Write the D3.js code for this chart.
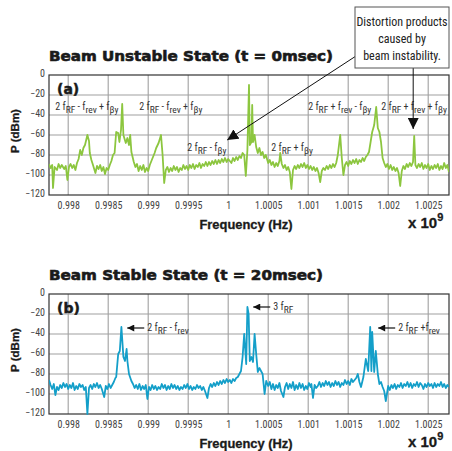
<!DOCTYPE html>
<html>
<head>
<meta charset="utf-8">
<script src="https://cdn.jsdelivr.net/npm/d3@7"></script>
<style>
  body { margin: 0; background: #fff; }
</style>
</head>
<body>
<svg id="chart"></svg>
<script>
// DATA SECTION

// x axis in units of 1e9 Hz, spectra stored as [MHz, dBm]
let xDomain = [0.99776, 1.00276];
let yDomain = [-120, 0];
let xTicks = [0.998, 0.9985, 0.999, 0.9995, 1, 1.0005, 1.001, 1.0015, 1.002, 1.0025];
let xTickLabels = ['0.998', '0.9985', '0.999', '0.9995', '1', '1.0005', '1.001', '1.0015', '1.002', '1.0025'];
let yTicks = [0, -20, -40, -60, -80, -100, -120];

let titles = ['Beam Unstable State (t = 0msec)', 'Beam Stable State (t = 20msec)'];
let panelTags = ['(a)', '(b)'];
let calloutLines = ['Distortion products', 'caused by', 'beam instability.'];

let unstableLabels = [
  '2 f_{RF} - f_{rev} + f_{βy}',
  '2 f_{RF} - f_{rev} + f_{βy}',
  '2 f_{RF} + f_{rev} - f_{βy}',
  '2 f_{RF} + f_{rev} + f_{βy}',
  '2 f_{RF} - f_{βy}',
  '2 f_{RF} + f_{βy}'
];
let stableLabels = ['2 f_{RF} - f_{rev}', '3 f_{RF}', '2 f_{RF} +f_{rev}'];

let unstableSpectrum = [
  [997.76,-89],[997.78,-93],[997.80,-90],[997.81,-113],[997.83,-92],[997.86,-95],[997.88,-89],
  [997.90,-93],[997.92,-90],[997.95,-94],[997.97,-91],[997.99,-105],[998.01,-92],[998.03,-89],
  [998.05,-93],[998.07,-90],[998.09,-95],[998.11,-88],[998.13,-84],[998.15,-75],[998.17,-80],
  [998.19,-73],[998.21,-70],[998.24,-60],[998.26,-66],[998.27,-78],[998.29,-85],[998.31,-90],
  [998.34,-98],[998.36,-91],[998.38,-94],[998.40,-90],[998.42,-96],[998.44,-92],[998.46,-99],
  [998.48,-93],[998.50,-95],[998.52,-90],[998.54,-86],[998.56,-80],[998.58,-78],[998.60,-57],
  [998.625,-58],[998.64,-67],[998.66,-55],[998.675,-29],[998.69,-60],[998.72,-68],[998.74,-63],
  [998.76,-70],[998.775,-60],[998.79,-77],[998.82,-87],[998.84,-92],[998.86,-89],[998.88,-96],
  [998.90,-91],[998.92,-95],[998.94,-90],[998.96,-97],[998.98,-93],[999.00,-96],[999.02,-90],
  [999.04,-86],[999.06,-82],[999.08,-78],[999.10,-73],[999.13,-68],[999.16,-60],[999.18,-80],
  [999.20,-108],[999.22,-95],[999.24,-92],[999.26,-97],[999.28,-93],[999.30,-96],[999.32,-91],
  [999.34,-95],[999.36,-92],[999.38,-97],[999.40,-93],[999.42,-95],[999.44,-90],[999.46,-94],
  [999.48,-91],[999.50,-95],[999.52,-90],[999.54,-93],[999.56,-89],[999.58,-94],[999.60,-90],
  [999.62,-92],[999.64,-88],[999.66,-93],[999.68,-89],[999.70,-91],[999.72,-87],[999.74,-91],
  [999.76,-87],[999.78,-90],[999.80,-86],[999.82,-89],[999.84,-85],[999.86,-89],[999.88,-85],
  [999.90,-88],[999.92,-84],[999.94,-87],[999.96,-83],[999.98,-87],[1000.00,-84],[1000.02,-86],
  [1000.04,-88],[1000.06,-83],[1000.08,-86],[1000.10,-82],[1000.12,-85],[1000.14,-81],[1000.16,-83],
  [1000.18,-78],[1000.20,-80],[1000.22,-101],[1000.24,-75],[1000.26,-10],[1000.27,-70],[1000.29,-67],
  [1000.30,-30],[1000.31,-67],[1000.33,-60],[1000.35,-72],[1000.37,-78],[1000.39,-73],[1000.41,-80],
  [1000.43,-77],[1000.45,-83],[1000.47,-80],[1000.50,-88],[1000.52,-85],[1000.54,-90],[1000.56,-87],
  [1000.58,-92],[1000.60,-88],[1000.62,-91],[1000.64,-86],[1000.65,-78],[1000.67,-89],[1000.69,-93],
  [1000.71,-90],[1000.73,-95],[1000.75,-92],[1000.77,-97],[1000.79,-114],[1000.81,-95],[1000.83,-91],
  [1000.85,-94],[1000.87,-90],[1000.89,-93],[1000.91,-89],[1000.93,-92],[1000.95,-88],[1000.97,-93],
  [1000.99,-90],[1001.01,-94],[1001.03,-91],[1001.05,-95],[1001.07,-92],[1001.09,-96],[1001.11,-93],
  [1001.13,-98],[1001.15,-107],[1001.17,-96],[1001.19,-93],[1001.21,-95],[1001.23,-91],[1001.25,-94],
  [1001.27,-90],[1001.29,-93],[1001.31,-89],[1001.33,-92],[1001.35,-88],[1001.37,-80],[1001.40,-60],
  [1001.42,-83],[1001.44,-100],[1001.46,-90],[1001.48,-87],[1001.50,-91],[1001.52,-86],[1001.54,-89],
  [1001.56,-85],[1001.58,-88],[1001.60,-84],[1001.62,-89],[1001.64,-85],[1001.66,-87],[1001.68,-83],
  [1001.70,-86],[1001.72,-82],[1001.74,-80],[1001.76,-77],[1001.78,-67],[1001.80,-57],[1001.825,-50],
  [1001.85,-32],[1001.87,-53],[1001.89,-57],[1001.91,-67],[1001.93,-83],[1001.95,-88],[1001.97,-92],
  [1001.99,-89],[1002.01,-94],[1002.03,-90],[1002.05,-95],[1002.07,-92],[1002.09,-96],[1002.11,-93],
  [1002.13,-98],[1002.15,-111],[1002.17,-96],[1002.19,-91],[1002.21,-94],[1002.23,-89],[1002.25,-92],
  [1002.27,-88],[1002.29,-91],[1002.31,-87],[1002.325,-61],[1002.34,-90],[1002.36,-93],[1002.38,-89],
  [1002.40,-92],[1002.42,-88],[1002.44,-94],[1002.46,-90],[1002.48,-93],[1002.50,-89],[1002.52,-95],
  [1002.54,-91],[1002.56,-94],[1002.58,-90],[1002.60,-93],[1002.62,-89],[1002.64,-95],[1002.66,-91],
  [1002.68,-94],[1002.70,-88],[1002.72,-93],[1002.74,-90],[1002.76,-97]
];

let stableSpectrum = [
  [997.76,-86],[997.78,-91],[997.80,-95],[997.82,-90],[997.84,-101],[997.86,-93],[997.88,-96],
  [997.90,-91],[997.92,-94],[997.94,-89],[997.96,-93],[997.98,-90],[998.00,-95],[998.02,-91],
  [998.04,-94],[998.06,-89],[998.08,-96],[998.10,-92],[998.12,-95],[998.14,-90],[998.16,-93],
  [998.18,-91],[998.20,-96],[998.22,-93],[998.24,-120],[998.26,-94],[998.28,-91],[998.30,-95],
  [998.32,-90],[998.34,-93],[998.36,-89],[998.38,-94],[998.40,-91],[998.42,-95],[998.45,-103],
  [998.47,-92],[998.49,-95],[998.51,-90],[998.53,-94],[998.55,-91],[998.57,-88],[998.59,-84],
  [998.60,-83],[998.625,-60],[998.645,-57],[998.665,-33],[998.69,-63],[998.71,-67],[998.73,-55],
  [998.74,-67],[998.76,-80],[998.79,-87],[998.81,-90],[998.83,-94],[998.85,-91],[998.87,-95],
  [998.89,-90],[998.91,-96],[998.93,-92],[998.95,-95],[998.97,-91],[998.99,-105],[999.01,-93],
  [999.03,-96],[999.05,-91],[999.07,-95],[999.09,-92],[999.11,-96],[999.13,-93],[999.15,-95],
  [999.17,-90],[999.19,-94],[999.21,-91],[999.23,-96],[999.25,-92],[999.27,-95],[999.29,-90],
  [999.31,-94],[999.33,-91],[999.35,-95],[999.37,-92],[999.39,-96],[999.41,-93],[999.43,-95],
  [999.45,-91],[999.47,-94],[999.49,-90],[999.51,-95],[999.53,-92],[999.55,-96],[999.57,-93],
  [999.59,-95],[999.61,-91],[999.63,-94],[999.65,-92],[999.67,-96],[999.69,-93],[999.71,-97],
  [999.74,-104],[999.76,-94],[999.78,-90],[999.80,-93],[999.82,-89],[999.84,-92],[999.86,-88],
  [999.88,-91],[999.90,-87],[999.92,-90],[999.94,-86],[999.96,-89],[999.98,-85],[1000.00,-88],
  [1000.02,-86],[1000.04,-89],[1000.06,-85],[1000.08,-87],[1000.10,-84],[1000.12,-83],[1000.14,-80],
  [1000.16,-77],[1000.18,-63],[1000.20,-40],[1000.225,-70],[1000.24,-13],[1000.255,-20],[1000.27,-67],
  [1000.29,-63],[1000.31,-68],[1000.33,-40],[1000.35,-60],[1000.37,-78],[1000.39,-74],[1000.41,-77],
  [1000.43,-80],[1000.455,-100],[1000.475,-87],[1000.50,-92],[1000.52,-88],[1000.54,-95],[1000.56,-90],
  [1000.58,-96],[1000.60,-91],[1000.62,-94],[1000.64,-89],[1000.66,-97],[1000.69,-103],[1000.71,-93],
  [1000.73,-89],[1000.75,-95],[1000.77,-90],[1000.79,-94],[1000.81,-88],[1000.83,-96],[1000.85,-91],
  [1000.87,-95],[1000.89,-89],[1000.91,-94],[1000.93,-90],[1000.95,-96],[1000.97,-92],[1000.99,-95],
  [1001.01,-89],[1001.03,-93],[1001.04,-90],[1001.06,-104],[1001.08,-91],[1001.10,-94],[1001.12,-92],
  [1001.14,-88],[1001.16,-93],[1001.18,-89],[1001.20,-92],[1001.22,-87],[1001.24,-91],[1001.26,-88],
  [1001.28,-93],[1001.30,-89],[1001.32,-92],[1001.34,-87],[1001.36,-91],[1001.38,-88],[1001.40,-93],
  [1001.42,-89],[1001.44,-91],[1001.46,-86],[1001.48,-90],[1001.50,-87],[1001.52,-91],[1001.54,-85],
  [1001.56,-88],[1001.58,-86],[1001.60,-84],[1001.62,-80],[1001.64,-88],[1001.66,-93],[1001.69,-83],
  [1001.72,-65],[1001.75,-77],[1001.775,-33],[1001.79,-77],[1001.80,-38],[1001.825,-78],[1001.845,-57],
  [1001.87,-80],[1001.89,-90],[1001.91,-88],[1001.93,-93],[1001.95,-97],[1001.97,-107],[1002.00,-92],
  [1002.02,-96],[1002.04,-91],[1002.06,-94],[1002.08,-90],[1002.10,-95],[1002.12,-91],[1002.14,-93],
  [1002.16,-89],[1002.18,-94],[1002.20,-90],[1002.22,-92],[1002.24,-88],[1002.26,-93],[1002.28,-89],
  [1002.30,-94],[1002.32,-90],[1002.34,-92],[1002.36,-88],[1002.38,-93],[1002.40,-89],[1002.42,-91],
  [1002.44,-95],[1002.46,-90],[1002.48,-93],[1002.50,-89],[1002.52,-92],[1002.54,-90],[1002.56,-94],
  [1002.58,-89],[1002.60,-93],[1002.62,-90],[1002.64,-92],[1002.66,-88],[1002.68,-93],[1002.70,-90],
  [1002.72,-94],[1002.74,-91],[1002.76,-93]
];

// RENDER SECTION

let narrow = "'Liberation Sans Narrow', 'Arial Narrow', 'Roboto Condensed', 'Liberation Sans', sans-serif";
let heavy = "'Arial Black', 'DejaVu Sans', 'Liberation Sans', sans-serif";

let svg = d3.select('#chart')
  .attr('width', 452)
  .attr('height', 451)
  .attr('viewBox', '0 0 452 451');

let defs = svg.append('defs');
defs.append('marker')
  .attr('id', 'head')
  .attr('viewBox', '0 0 10 10')
  .attr('refX', 10).attr('refY', 5)
  .attr('markerUnits', 'userSpaceOnUse')
  .attr('markerWidth', 8).attr('markerHeight', 7)
  .attr('orient', 'auto')
  .append('path')
  .attr('d', 'M0,0 L10,5 L0,10 Z')
  .attr('fill', '#111');
defs.append('marker')
  .attr('id', 'bighead')
  .attr('viewBox', '0 0 10 10')
  .attr('refX', 10).attr('refY', 5)
  .attr('markerUnits', 'userSpaceOnUse')
  .attr('markerWidth', 11).attr('markerHeight', 11)
  .attr('orient', 'auto')
  .append('path')
  .attr('d', 'M0,0 L10,5 L0,10 Z')
  .attr('fill', '#111');

// "2 f_{RF}" -> text with subscript tspans
function richText(sel, str, size) {
  let parts = str.split(/_\{([^}]*)\}/);
  let t = sel.append('text')
    .attr('font-family', narrow)
    .attr('font-size', size)
    .attr('fill', '#333');
  parts.forEach(function(p, i) {
    if (p === '') return;
    if (i % 2 === 1) {
      t.append('tspan').attr('dy', 2.5).attr('font-size', size * 0.95).text(p);
    } else {
      t.append('tspan').attr('dy', i === 0 ? 0 : -2.5).text(p);
    }
  });
  return t;
}

function drawPanel(cfg) {
  let left = 49, right = 449;
  let x = d3.scaleLinear().domain(xDomain).range([left, right]);
  let y = d3.scaleLinear().domain(yDomain).range([cfg.bottom, cfg.top]);

  let g = svg.append('g').attr('class', 'panel');

  // title
  g.append('text')
    .attr('x', left)
    .attr('y', cfg.top - 14)
    .attr('font-family', heavy)
    .attr('font-weight', 'bold')
    .attr('font-size', 13.5)
    .attr('fill', '#1a1a1a')
    .attr('stroke', '#1a1a1a')
    .attr('stroke-width', 0.6)
    .attr('textLength', cfg.titleWidth)
    .attr('lengthAdjust', 'spacingAndGlyphs')
    .text(cfg.title);

  // grid
  g.append('g')
    .selectAll('line')
    .data(xTicks)
    .enter().append('line')
    .attr('x1', d => x(d)).attr('x2', d => x(d))
    .attr('y1', cfg.top).attr('y2', cfg.bottom)
    .attr('stroke', '#a0a0a0')
    .attr('stroke-width', 1.1);
  g.append('g')
    .selectAll('line')
    .data(yTicks.slice(1, -1))
    .enter().append('line')
    .attr('x1', left).attr('x2', right)
    .attr('y1', d => y(d)).attr('y2', d => y(d))
    .attr('stroke', '#a0a0a0')
    .attr('stroke-width', 1.1);

  // frame
  g.append('rect')
    .attr('x', left).attr('y', cfg.top)
    .attr('width', right - left).attr('height', cfg.bottom - cfg.top)
    .attr('fill', 'none')
    .attr('stroke', '#333')
    .attr('stroke-width', 1.2);

  // axes labels
  g.append('g')
    .attr('transform', `translate(0,${cfg.bottom + 14})`)
    .call(d3.axisBottom(x).tickValues(xTicks).tickFormat((d, i) => xTickLabels[i]).tickSize(0))
    .call(a => a.select('.domain').remove())
    .call(a => a.selectAll('.tick text')
      .attr('y', 0).attr('dy', 0)
      .attr('font-family', narrow)
      .attr('font-size', 10)
      .attr('fill', '#444'));
  g.append('g')
    .attr('transform', `translate(${left - 4},0)`)
    .call(d3.axisLeft(y).tickValues(yTicks).tickSize(0))
    .call(a => a.select('.domain').remove())
    .call(a => a.selectAll('.tick text')
      .attr('x', 0).attr('dy', '0.15em')
      .attr('font-family', narrow)
      .attr('font-size', 10)
      .attr('fill', '#444'));

  g.append('text')
    .attr('transform', `translate(19,${(cfg.top + cfg.bottom) / 2 - 4}) rotate(-90)`)
    .attr('text-anchor', 'middle')
    .attr('font-family', 'Liberation Sans, sans-serif')
    .attr('font-weight', 'bold')
    .attr('font-size', 11.5)
    .attr('fill', '#1a1a1a')
    .attr('stroke', '#1a1a1a')
    .attr('stroke-width', 0.3)
    .text('P (dBm)');
  g.append('text')
    .attr('x', 246).attr('y', cfg.bottom + 34)
    .attr('text-anchor', 'middle')
    .attr('font-family', 'Liberation Sans, sans-serif')
    .attr('font-weight', 'bold')
    .attr('font-size', 12)
    .attr('fill', '#1a1a1a')
    .attr('stroke', '#1a1a1a')
    .attr('stroke-width', 0.3)
    .attr('textLength', 93)
    .attr('lengthAdjust', 'spacingAndGlyphs')
    .text('Frequency (Hz)');
  let exp = g.append('text')
    .attr('x', 408).attr('y', cfg.bottom + 33)
    .attr('font-family', 'Liberation Sans, sans-serif')
    .attr('font-weight', 'bold')
    .attr('font-size', 15)
    .attr('fill', '#1a1a1a')
    .attr('stroke', '#1a1a1a')
    .attr('stroke-width', 0.3);
  exp.append('tspan').text('x 10');
  exp.append('tspan').attr('dy', -7).attr('font-size', 11).text('9');

  // panel tag
  g.append('text')
    .attr('x', 57).attr('y', cfg.top + 19)
    .attr('font-family', heavy)
    .attr('font-weight', 'bold')
    .attr('font-size', 14)
    .attr('fill', '#1a1a1a')
    .attr('stroke', '#1a1a1a')
    .attr('stroke-width', 0.5)
    .text(cfg.tag);

  // trace
  let clip = 'clip' + cfg.tag.replace(/\W/g, '');
  defs.append('clipPath').attr('id', clip)
    .append('rect')
    .attr('x', left).attr('y', cfg.top)
    .attr('width', right - left).attr('height', cfg.bottom - cfg.top + 1);
  let line = d3.line()
    .x(d => x(d[0] / 1000))
    .y(d => y(d[1]));
  g.append('path')
    .datum(cfg.data)
    .attr('clip-path', `url(#${clip})`)
    .attr('fill', 'none')
    .attr('stroke', cfg.color)
    .attr('stroke-width', 1.8)
    .attr('stroke-linejoin', 'round')
    .attr('d', line);

  return {x: x, y: y, g: g};
}

// panel (a)
let pa = drawPanel({top: 75, bottom: 195, title: titles[0], titleWidth: 284, tag: panelTags[0],
  data: unstableSpectrum, color: '#8cc63f'});

// label anchors [GHz, dBm]
let aAnchors = [[0.997838, -35], [0.998888, -35], [1.001, -35], [1.001913, -35], [0.999488, -76], [1.000538, -76]];
unstableLabels.forEach(function(s, i) {
  richText(pa.g, s, 10)
    .attr('x', pa.x(aAnchors[i][0]))
    .attr('y', pa.y(aAnchors[i][1]));
});

// callout box + leaders
let box = {x: 355, y: 7, w: 94, h: 61};
pa.g.append('line')
  .attr('x1', box.x + 1).attr('y1', 56)
  .attr('x2', pa.x(0.9999875)).attr('y2', pa.y(-65))
  .attr('stroke', '#111').attr('stroke-width', 1)
  .attr('marker-end', 'url(#bighead)');
pa.g.append('line')
  .attr('x1', pa.x(1.0023125)).attr('y1', box.y + box.h)
  .attr('x2', pa.x(1.0023125)).attr('y2', pa.y(-54))
  .attr('stroke', '#111').attr('stroke-width', 1)
  .attr('marker-end', 'url(#bighead)');
pa.g.append('rect')
  .attr('x', box.x).attr('y', box.y)
  .attr('width', box.w).attr('height', box.h)
  .attr('fill', '#fff')
  .attr('stroke', '#555')
  .attr('stroke-width', 1);
pa.g.append('g')
  .selectAll('text')
  .data(calloutLines)
  .enter().append('text')
  .attr('x', box.x + box.w / 2)
  .attr('y', (d, i) => 26 + i * 17)
  .attr('text-anchor', 'middle')
  .attr('font-family', narrow)
  .attr('font-size', 12)
  .attr('fill', '#222')
  .text(d => d);

// panel (b)
let pb = drawPanel({top: 294, bottom: 414, title: titles[1], titleWidth: 274, tag: panelTags[1],
  data: stableSpectrum, color: '#149fc9'});

// arrow tips [GHz, dBm]
let bAnchors = [[0.998738, -34], [1.000313, -13], [1.001875, -34]];
stableLabels.forEach(function(s, i) {
  let tx = pb.x(bAnchors[i][0]), ty = pb.y(bAnchors[i][1]);
  pb.g.append('line')
    .attr('x1', tx + 17).attr('y1', ty)
    .attr('x2', tx).attr('y2', ty)
    .attr('stroke', '#111').attr('stroke-width', 1.2)
    .attr('marker-end', 'url(#head)');
  richText(pb.g, s, 10)
    .attr('x', tx + 20)
    .attr('y', ty + 3);
});
</script>
</body>
</html>
